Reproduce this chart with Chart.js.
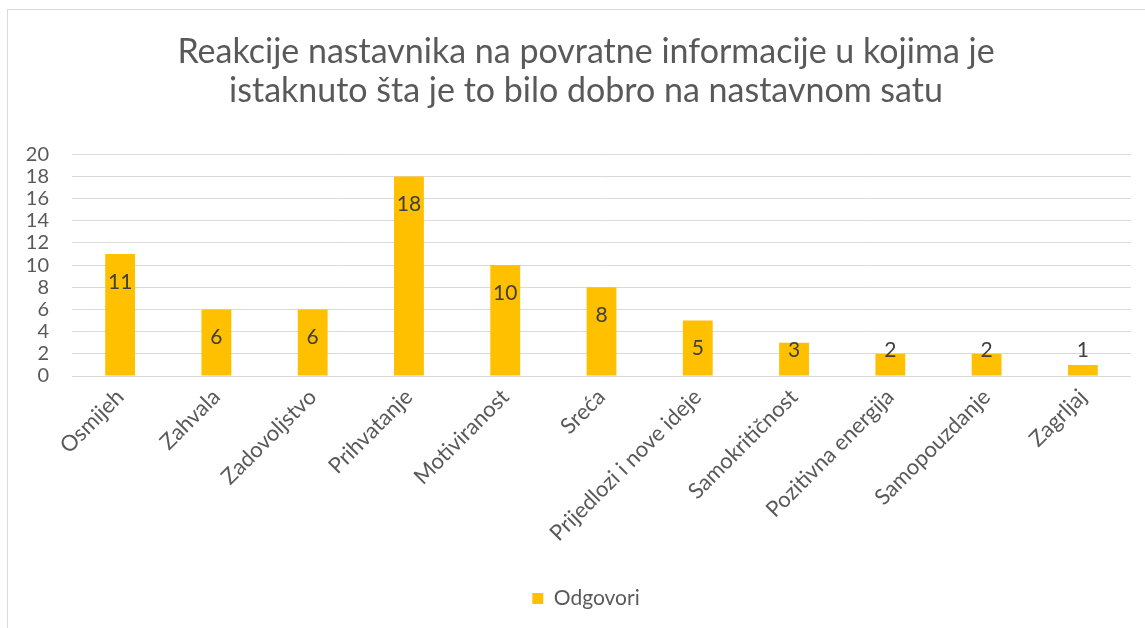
<!DOCTYPE html>
<html>
<head>
<meta charset="utf-8">
<script src="https://cdn.jsdelivr.net/npm/chart.js@4/dist/chart.umd.min.js"></script>
<style>
  html, body { margin: 0; padding: 0; background: #fff; overflow: hidden; }
  .frame {
    position: absolute; left: 7px; top: 9px;
    width: 1156px; height: 630px;
    border-left: 1px solid #d9d9d9; border-top: 1px solid #d9d9d9;
  }
  canvas { display: block; }
</style>
</head>
<body>
<div class="frame">
  <canvas id="chart" width="1156" height="618"></canvas>
</div>
<script>
'use strict';

// ── Data ──────────────────────────────────────────────────
const categories = [
  'Osmijeh', 'Zahvala', 'Zadovoljstvo', 'Prihvatanje', 'Motiviranost', 'Sreća',
  'Prijedlozi i nove ideje', 'Samokritičnost', 'Pozitivna energija', 'Samopouzdanje', 'Zagrljaj'
];
const odgovori   = [11, 6, 6, 18, 10, 8, 5, 3, 2, 2, 1];
const seriesName = 'Odgovori';
const titleLines = [
  'Reakcije nastavnika na povratne informacije u kojima je',
  'istaknuto šta je to bilo dobro na nastavnom satu'
];
const yTicks = [0, 2, 4, 6, 8, 10, 12, 14, 16, 18, 20];

// ── Style ─────────────────────────────────────────────────
const FONT  = 'Lato, "Open Sans", sans-serif';
const GOLD  = '#FFC000';
const GRID  = '#D9D9D9';
const TEXT  = '#595959';
const LABEL = '#404040';

// data labels, just inside the bar end (pushed up for short bars)
const barLabels = {
  id: 'barLabels',
  afterDatasetsDraw(chart) {
    const { ctx } = chart;
    const meta = chart.getDatasetMeta(0);
    ctx.save();
    ctx.font = `21px ${FONT}`;
    ctx.fillStyle = LABEL;
    ctx.textAlign = 'center';
    ctx.textBaseline = 'middle';
    meta.data.forEach((bar, i) => {
      const y = Math.min(bar.y + 28, bar.base - 25);
      ctx.fillText(String(odgovori[i]), bar.x, y);
    });
    ctx.restore();
  }
};

new Chart(document.getElementById('chart'), {
  type: 'bar',
  data: {
    labels: categories,
    datasets: [{
      label: seriesName,
      data: odgovori,
      backgroundColor: GOLD,
      borderWidth: 0,
      categoryPercentage: 0.62,
      barPercentage: 0.5
    }]
  },
  options: {
    responsive: false,
    animation: false,
    layout: { padding: { left: 0, right: 0, top: 0, bottom: 9 } },
    plugins: {
      title: {
        display: true,
        text: titleLines,
        color: TEXT,
        font: { family: FONT, size: 34, weight: 'normal', lineHeight: 1.15 },
        padding: { top: 22, bottom: 44 }
      },
      legend: {
        position: 'bottom',
        labels: {
          color: TEXT,
          font: { family: FONT, size: 21 },
          boxWidth: 11, boxHeight: 11, padding: 6
        }
      },
      tooltip: { enabled: false }
    },
    scales: {
      x: {
        grid: { display: false, drawTicks: false },
        border: { display: false },
        ticks: {
          color: TEXT, font: { family: FONT, size: 22 },
          minRotation: 45, maxRotation: 45, padding: 8, autoSkip: false
        },
        afterFit(scale) { scale.height = 206; }
      },
      y: {
        min: 0, max: 20,
        afterBuildTicks(scale) { scale.ticks = yTicks.map(v => ({ value: v })); },
        grid: { color: GRID, lineWidth: 1, drawTicks: false },
        border: { display: false },
        ticks: { color: TEXT, font: { family: FONT, size: 20 }, padding: 23, autoSkip: false },
        afterFit(scale) { scale.width = 64; }
      },
      // empty right margin so the title and legend stay centred on the canvas
      yRight: {
        type: 'linear', position: 'right',
        grid: { display: false, drawTicks: false },
        border: { display: false },
        ticks: { display: false },
        afterFit(scale) { scale.width = 33; }
      }
    }
  },
  plugins: [barLabels]
});
</script>
</body>
</html>
